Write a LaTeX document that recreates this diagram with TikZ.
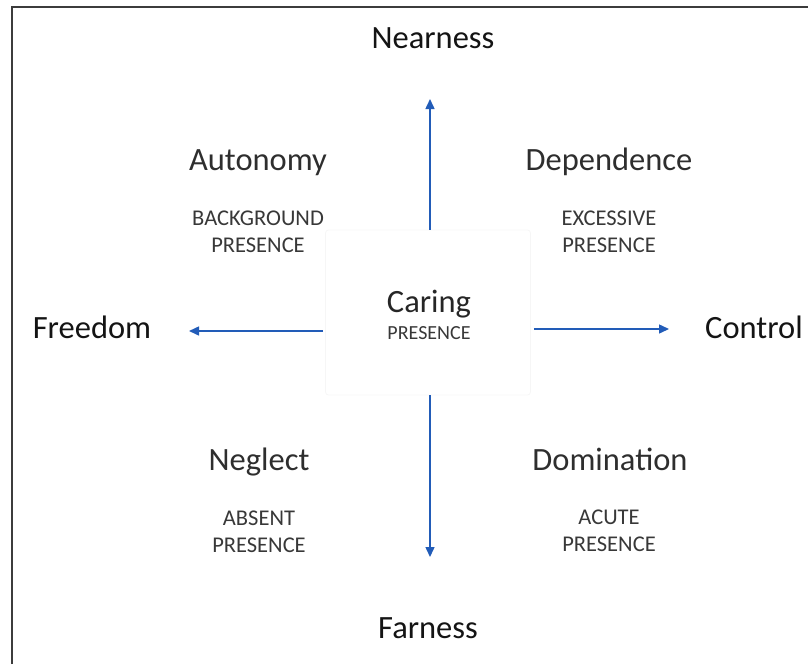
\documentclass[tikz,border=0pt]{standalone}
\usepackage{fontspec}
\setmainfont{Carlito}
\usetikzlibrary{arrows.meta}
\definecolor{axisblue}{RGB}{34,92,184}
\definecolor{framegray}{RGB}{60,60,60}
\definecolor{boxgray}{RGB}{246,246,246}
\begin{document}
\begin{tikzpicture}[x=1pt,y=-1pt,
  pole/.style={anchor=base,font=\fontsize{32.5}{36}\selectfont,text=black!92,inner sep=0pt},
  mode/.style={anchor=base,font=\fontsize{32.5}{36}\selectfont,text=black!82,inner sep=0pt},
  presence/.style={anchor=base,align=center,font=\fontsize{22.5}{27}\selectfont,text=black!78,inner sep=0pt},
  axis/.style={draw=axisblue,line width=1.5pt,-{Triangle[length=10pt,width=9pt]}},
  core/.style={draw=boxgray,line width=0.8pt,rounded corners=3pt,minimum width=205pt,minimum height=165pt,inner sep=0pt}]
\useasboundingbox (0,0) rectangle (808,664);
% partial frame along the top and left
\draw[framegray,line width=1.6pt] (12,664) -- (12,7) -- (808,7);

% central quadrant box
\node[core] (care) at (428,312.5) {};
\node[pole,text=black!85] (caring) at (429,312) {Caring};
\node[presence,font=\fontsize{20}{24}\selectfont] (caringP) at (429,339) {PRESENCE};

% poles of the two axes
\node[pole] (near) at (433,48) {Nearness};
\node[pole] (far) at (428,638) {Farness};
\node[pole] (free) at (92,338) {Freedom};
\node[pole] (ctrl) at (754,338) {Control};

% the four quadrants
\node[mode] (auto) at (258,170) {Autonomy};
\node[presence] (autoP) at (258,252) {BACKGROUND\\PRESENCE};
\node[mode] (dep) at (609,170) {Dependence};
\node[presence] (depP) at (609,252) {EXCESSIVE\\PRESENCE};
\node[mode] (negl) at (259,470) {Neglect};
\node[presence] (neglP) at (259,552) {ABSENT\\PRESENCE};
\node[mode] (dom) at (610,470) {Domination};
\node[presence] (domP) at (609,551) {ACUTE\\PRESENCE};

% arrow tips
\coordinate (upTip) at (430,99);
\coordinate (downTip) at (430,557);
\coordinate (leftTip) at (189,331);
\coordinate (rightTip) at (669,329);

\draw[axis] (care.north -| upTip) -- (upTip);
\draw[axis] (care.south -| downTip) -- (downTip);
\draw[axis] ([xshift=-2pt]care.west |- leftTip) -- (leftTip);
\draw[axis] ([xshift=3pt]care.east |- rightTip) -- (rightTip);
\end{tikzpicture}
\end{document}
